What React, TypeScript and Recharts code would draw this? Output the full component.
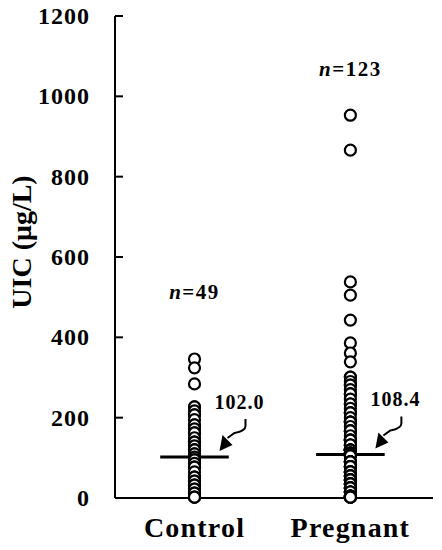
import React from "react"
import {
  ReferenceDot,
  ReferenceLine,
  Scatter,
  ScatterChart,
  XAxis,
  YAxis,
} from "recharts"

const groups = ["Control", "Pregnant"]
const groupCounts = ["49", "123"]
const medians = [102.0, 108.4]
const yTicks = [0, 200, 400, 600, 800, 1000, 1200]

// UIC values (µg/L); many readings coincide
const control = [
  346, 324, 284, 227, 227, 217, 207, 207, 195, 182, 182, 172, 162, 162, 150, 139, 139, 139, 130, 120,
  120, 120, 110, 110, 102, 95, 95, 95, 86, 77, 77, 77, 65, 52, 52, 52, 42, 42, 32, 32, 32, 22, 22, 12,
  12, 12, 2, 2, 2,
]
const pregnant = [
  953, 866, 538, 505, 443, 386, 361, 339, 301, 301, 290, 281, 281, 270, 259, 259, 259, 246, 234, 234,
  234, 223, 212, 212, 212, 212, 200, 189, 189, 189, 189, 178, 167, 167, 167, 167, 155, 144, 144, 144,
  144, 144, 132, 132, 132, 132, 119, 119, 119, 119, 119, 119, 119, 119, 119, 119, 112, 112, 112, 112,
  112, 108.4, 105, 105, 105, 105, 90, 90, 90, 90, 90, 90, 78, 78, 78, 78, 78, 65, 65, 65, 65, 65, 65,
  55, 55, 55, 55, 55, 45, 45, 45, 45, 45, 45, 35, 35, 35, 35, 35, 35, 25, 25, 25, 25, 25, 25, 15, 15,
  15, 15, 15, 15, 5, 5, 5, 5, 5, 5, 2, 2, 2, 2, 2,
]
// where the n= labels sit (data units)
const countLabelY = [513, 1068]

const FONT = "'Liberation Serif', 'Times New Roman', serif"

const series = [control, pregnant].map((vals, i) => vals.map((v) => ({ x: i + 1, y: v })))

function Dot(props: any) {
  const { cx, cy } = props
  if (cx == null || cy == null) return null
  return <circle cx={cx} cy={cy} r={5.5} fill="#fff" stroke="#000" strokeWidth={2.2} />
}

function YTick(props: any) {
  const { x, y, payload } = props
  return (
    <g>
      <line x1={x + 25} x2={x + 33} y1={y} y2={y} stroke="#000" strokeWidth={2} />
      <text x={x} y={y} dy={8} textAnchor="end" fontFamily={FONT} fontWeight="bold" fontSize={24} letterSpacing={1} fill="#000">
        {payload.value}
      </text>
    </g>
  )
}

function XTick(props: any) {
  const { x, y, payload } = props
  return (
    <text x={x} y={y} dy={39} textAnchor="middle" fontFamily={FONT} fontWeight="bold" fontSize={28} letterSpacing={1.2} fill="#000">
      {groups[payload.value - 1]}
    </text>
  )
}

function MedianNote(props: any) {
  const { cx, cy, text } = props
  if (cx == null || cy == null) return null
  return (
    <g>
      <text x={cx + 45} y={cy - 48} textAnchor="middle" fontFamily={FONT} fontWeight="bold" fontSize={20} letterSpacing={1} fill="#000">
        {text}
      </text>
      <path
        d={`M${cx + 51} ${cy - 38} L${cx + 51} ${cy - 31} Q${cx + 51} ${cy - 26} ${cx + 40} ${cy - 24} L${cx + 33} ${cy - 19}`}
        fill="none"
        stroke="#000"
        strokeWidth={2}
      />
      <path d={`M${cx + 25} ${cy - 6} L${cx + 28} ${cy - 22} L${cx + 38} ${cy - 12} Z`} fill="#000" />
    </g>
  )
}

function CountLabel(props: any) {
  const { cx, cy, n } = props
  if (cx == null || cy == null) return null
  return (
    <text x={cx} y={cy} dy={7} textAnchor="middle" fontFamily={FONT} fontWeight="bold" fontSize={21} letterSpacing={1.5} fill="#000">
      <tspan fontStyle="italic">n</tspan>
      <tspan>={n}</tspan>
    </text>
  )
}

export default function App() {
  return (
    <div style={{ position: "absolute", left: 0, top: 0, background: "#fff" }}>
      <ScatterChart width={442} height={550} margin={{ top: 16, right: 9, bottom: 0, left: 0 }}>
        <XAxis
          type="number"
          dataKey="x"
          domain={[0.49, 2.53]}
          ticks={[1, 2]}
          tick={<XTick />}
          tickLine={false}
          tickSize={0}
          tickMargin={0}
          height={52}
          axisLine={{ stroke: "#000", strokeWidth: 2 }}
          allowDataOverflow
        />
        <YAxis
          type="number"
          dataKey="y"
          domain={[0, 1200]}
          ticks={yTicks}
          tick={<YTick />}
          tickLine={false}
          tickSize={0}
          tickMargin={25}
          width={115}
          axisLine={{ stroke: "#000", strokeWidth: 2 }}
          label={(p: any) => {
            const vb = p.viewBox
            const lx = vb.x + 31
            const ly = vb.y + vb.height / 2 - 15
            return (
              <text
                x={lx}
                y={ly}
                transform={`rotate(-90 ${lx} ${ly})`}
                textAnchor="middle"
                fontFamily={FONT}
                fontWeight="bold"
                fontSize={28}
                fill="#000"
              >
                UIC (μg/L)
              </text>
            )
          }}
        />
        {series.map((d, i) => (
          <Scatter key={groups[i]} data={d} shape={<Dot />} isAnimationActive={false} />
        ))}
        {medians.map((m, i) => (
          <ReferenceLine
            key={"m" + i}
            segment={[
              { x: i + 1 - 0.22, y: m },
              { x: i + 1 + 0.22, y: m },
            ]}
            stroke="#000"
            strokeWidth={3}
          />
        ))}
        {medians.map((m, i) => (
          <ReferenceDot
            key={"a" + i}
            x={i + 1}
            y={m}
            r={0}
            shape={(p: any) => <MedianNote {...p} text={m.toFixed(1)} />}
          />
        ))}
        {groupCounts.map((n, i) => (
          <ReferenceDot
            key={"n" + i}
            x={i + 1}
            y={countLabelY[i]}
            r={0}
            shape={(p: any) => <CountLabel {...p} n={n} />}
          />
        ))}
      </ScatterChart>
    </div>
  )
}
